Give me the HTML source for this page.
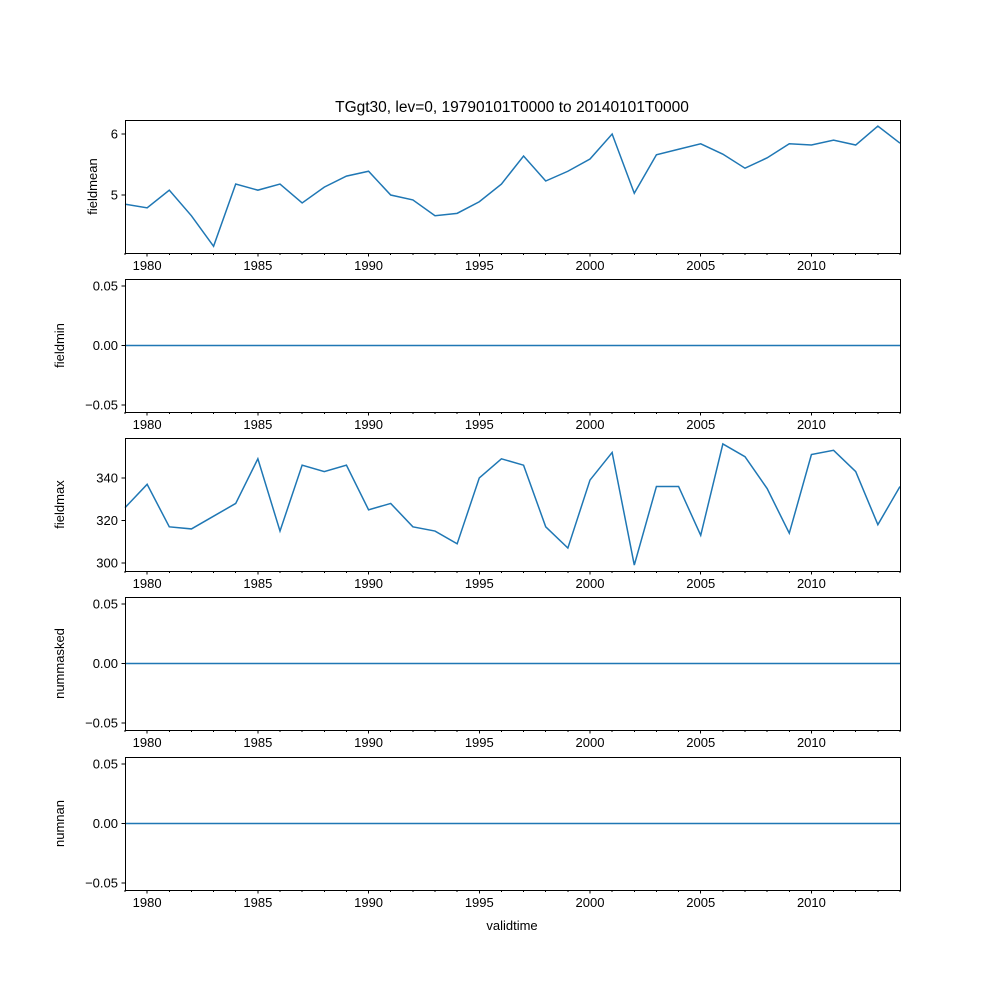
<!DOCTYPE html>
<html><head><meta charset="utf-8"><style>
body{margin:0;background:#fff}
svg text{font-family:"Liberation Sans","DejaVu Sans",sans-serif;font-size:13px;fill:#000}
</style></head><body>
<svg id="chart" width="1000" height="1000" xmlns="http://www.w3.org/2000/svg">
<text x="512" y="112" text-anchor="middle" style="font-size:15.5px">TGgt30, lev=0, 19790101T0000 to 20140101T0000</text>
<text x="512" y="930" text-anchor="middle">validtime</text>
</svg>
<script>
const years = [];
for (let y = 1979; y <= 2014; y++) years.push(y);
const fieldmean = [4.85,4.79,5.08,4.66,4.16,5.18,5.08,5.18,4.87,5.13,5.31,5.39,5.0,4.92,4.66,4.70,4.89,5.18,5.64,5.23,5.39,5.59,6.0,5.03,5.66,5.75,5.84,5.67,5.44,5.61,5.84,5.82,5.9,5.82,6.13,5.85];
const fieldmax = [326,337,317,316,322,328,349,315,346,343,346,325,328,317,315,309,340,349,346,317,307,339,352,299,336,336,313,356,350,335,314,351,353,343,318,336];
const zeros = years.map(() => 0);
const xTicks = [1980,1985,1990,1995,2000,2005,2010];
const panels = [
  {name:'fieldmean', top:120, bottom:253, min:4.05, max:6.23, ticks:[5,6], labels:['5','6'], data:fieldmean},
  {name:'fieldmin', top:279, bottom:412, min:-0.0559, max:0.0559, ticks:[-0.05,0,0.05], labels:['−0.05','0.00','0.05'], data:zeros},
  {name:'fieldmax', top:438, bottom:571, min:296.2, max:358.8, ticks:[300,320,340], labels:['300','320','340'], data:fieldmax},
  {name:'nummasked', top:597, bottom:730, min:-0.0559, max:0.0559, ticks:[-0.05,0,0.05], labels:['−0.05','0.00','0.05'], data:zeros},
  {name:'numnan', top:757, bottom:890, min:-0.0559, max:0.0559, ticks:[-0.05,0,0.05], labels:['−0.05','0.00','0.05'], data:zeros}
];
const svg = document.getElementById('chart');
const NS = 'http://www.w3.org/2000/svg';
const L = 125, R = 900;
const xs = v => L + (v - 1979) / (2014 - 1979) * (R - L);
function mk(tag, attrs, parent) {
  const e = document.createElementNS(NS, tag);
  for (const k in attrs) e.setAttribute(k, attrs[k]);
  (parent || svg).appendChild(e);
  return e;
}
panels.forEach(p => {
  const ys = v => p.bottom - (v - p.min) / (p.max - p.min) * (p.bottom - p.top);
  const g = mk('g', {});
  
  
  const pts = p.data.map((v, i) => xs(years[i]).toFixed(2) + ',' + ys(v).toFixed(2)).join(' ');
  const line = mk('polyline', {points: pts, fill: 'none', stroke: '#1f77b4', 'stroke-width': 1.5}, g);
  
  
  const frame = mk('rect', {x: L + 0.5, y: p.top + 0.5, width: R - L, height: p.bottom - p.top, fill: 'none', stroke: '#000', 'stroke-width': 1, 'shape-rendering': 'crispEdges'}, g);
  
  
  years.forEach(y => {
    const major = xTicks.includes(y);
    mk('line', {x1: xs(y), x2: xs(y), y1: p.bottom, y2: p.bottom + (major ? 3.5 : 2), stroke: '#000', 'stroke-width': 1, 'shape-rendering': 'crispEdges'}, g);
  });
  xTicks.forEach(y => {
    const t = mk('text', {x: xs(y), y: p.bottom + 17, 'text-anchor': 'middle'}, g);
    t.textContent = y;
    
    
  });
  p.ticks.forEach((v, i) => {
    mk('line', {x1: L - 3.5, x2: L, y1: ys(v), y2: ys(v), stroke: '#000', 'stroke-width': 1, 'shape-rendering': 'crispEdges'}, g);
    const t = mk('text', {x: L - 7, y: ys(v) + 4.5, 'text-anchor': 'end'}, g);
    t.textContent = p.labels[i];
    
    
  });
  const yl = p.ticks.length === 3 ? 64 : (p.name === 'fieldmax' ? 79 : 97);
  const cy = (p.top + p.bottom) / 2;
  const t = mk('text', {x: yl, y: cy, 'text-anchor': 'middle', transform: 'rotate(-90 ' + yl + ' ' + cy + ')'}, g);
  t.textContent = p.name;
  
  
});
</script>
</body></html>
